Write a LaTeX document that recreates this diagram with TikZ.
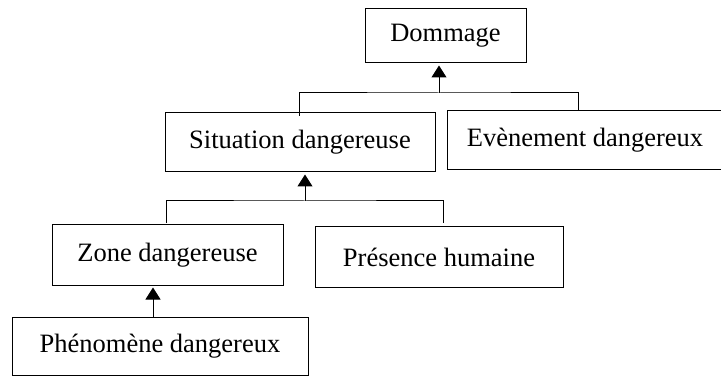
\documentclass[tikz,border=0pt]{standalone}
\usepackage{fontspec}
\setmainfont{Liberation Serif}
\usetikzlibrary{arrows.meta}
\begin{document}
\begin{tikzpicture}[x=1pt,y=-1pt,
  box/.style={draw,line width=1pt,inner sep=0pt,font=\fontsize{26.5}{30}\selectfont},
  link/.style={line width=1pt},
  up/.style={link,-{Triangle[length=12pt,width=15pt]}}]
\useasboundingbox (0,0) rectangle (721,377);
% boxes of the cause chain
\node[box,minimum width=161pt,minimum height=54pt] (dom) at (445.5,36) {Dommage};
\node[box,minimum width=270pt,minimum height=59pt] (sit) at (300,142.5) {Situation dangereuse};
\node[box,minimum width=276pt,minimum height=59pt] (evt) at (585,140.5) {Evènement dangereux};
\node[box,minimum width=231pt,minimum height=60pt] (zone) at (167.5,255) {Zone dangereuse};
\node[box,minimum width=248pt,minimum height=60pt] (pres) at (439,257) {Présence humaine};
\node[box,minimum width=296pt,minimum height=58pt] (phen) at (160,346) {Phénomène dangereux};
% junction points of the brackets
\coordinate (j1) at (439,93);
\coordinate (j1l) at (299,116);
\coordinate (j1r) at (578,111);
\coordinate (j2) at (305,201);
\coordinate (j2l) at (166,223);
\coordinate (j2r) at (443,223);
% top level
\draw[link] (j1l) |- (j1) -| (j1r);
\draw[up] (j1) -- ([yshift=-2pt]j1 |- dom.south);
% middle level
\draw[link] (j2l) |- (j2) -| (j2r);
\draw[up] (j2) -- ([yshift=-2pt]j2 |- sit.south);
% bottom level
\draw[up] (phen.north -| 153,0) -- ([yshift=-2pt]zone.south -| 153,0);
\end{tikzpicture}
\end{document}
